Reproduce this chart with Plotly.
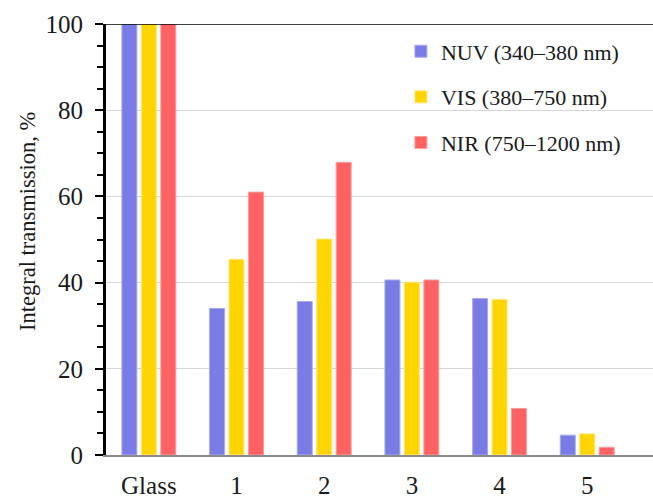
import plotly.graph_objects as go

categories = ["Glass", "1", "2", "3", "4", "5"]
nuv = [100, 34.0, 35.6, 40.6, 36.3, 4.6]
vis = [100, 45.4, 50.1, 40.1, 36.1, 4.9]
nir = [100, 61.0, 67.9, 40.6, 10.8, 1.8]
series_names = ["NUV (340–380 nm)", "VIS (380–750 nm)", "NIR (750–1200 nm)"]
y_title = "Integral transmission, %"

FONT = "Liberation Serif"

fig = go.Figure()
specs = [
    (series_names[0], nuv, "#7B7BE5", "#A9A9F2"),
    (series_names[1], vis, "#FFD500", "#FFE57A"),
    (series_names[2], nir, "#FF6262", "#FF9C9C"),
]
for i, (name, vals, col, edge) in enumerate(specs):
    fig.add_trace(go.Bar(
        x=categories, y=vals, name=name,
        marker=dict(color=col, line=dict(color=edge, width=1)),
        legendgroup=f"g{i}",
    ))

fig.update_layout(
    width=653, height=500,
    margin=dict(l=105, r=0, t=24, b=45),
    paper_bgcolor="white", plot_bgcolor="white",
    barmode="group", bargap=0.334, bargroupgap=0.23,
    font=dict(family=FONT, size=24, color="#1a1a1a"),
    legend=dict(
        x=0.540, y=0.985, xanchor="left", yanchor="top",
        bgcolor="rgba(0,0,0,0)", font=dict(family=FONT, size=22, color="#1a1a1a"),
        tracegroupgap=14, traceorder="grouped",
    ),
    showlegend=True,
)
fig.update_xaxes(
    type="category", range=[-0.5, 5.75], automargin=False,
    showline=True, linecolor="#8a8a8a", linewidth=1.5,
    ticks="", ticklabelstandoff=7, showgrid=False,
    tickfont=dict(family=FONT, size=25, color="#1a1a1a"),
)
fig.update_yaxes(
    range=[0, 100], dtick=20, tick0=0, automargin=False,
    showline=True, linecolor="black", linewidth=2,
    ticks="outside", ticklen=8, tickwidth=2, tickcolor="black",
    minor=dict(dtick=5, ticks="outside", ticklen=6, tickwidth=2, tickcolor="black", showgrid=False),
    showgrid=True, gridcolor="#d6d6d6", gridwidth=1, zeroline=False,
    ticklabelstandoff=7,
    tickfont=dict(family=FONT, size=25, color="#1a1a1a"),
)
fig.add_annotation(
    text=y_title, textangle=-90, showarrow=False,
    xref="paper", yref="paper", x=-0.1423, y=0.5406,
    xanchor="center", yanchor="middle",
    font=dict(family=FONT, size=22.5, color="#1a1a1a"),
)
# black top line at 100 and crisp left axis line
fig.add_shape(type="line", xref="x domain", yref="y", x0=0, x1=1, y0=100, y1=100,
              line=dict(color="black", width=1.5), layer="above")
fig.add_shape(type="line", xref="x domain", yref="y domain", x0=0, x1=0, y0=0, y1=1,
              line=dict(color="black", width=2), layer="above")

fig.write_html("out.html")
